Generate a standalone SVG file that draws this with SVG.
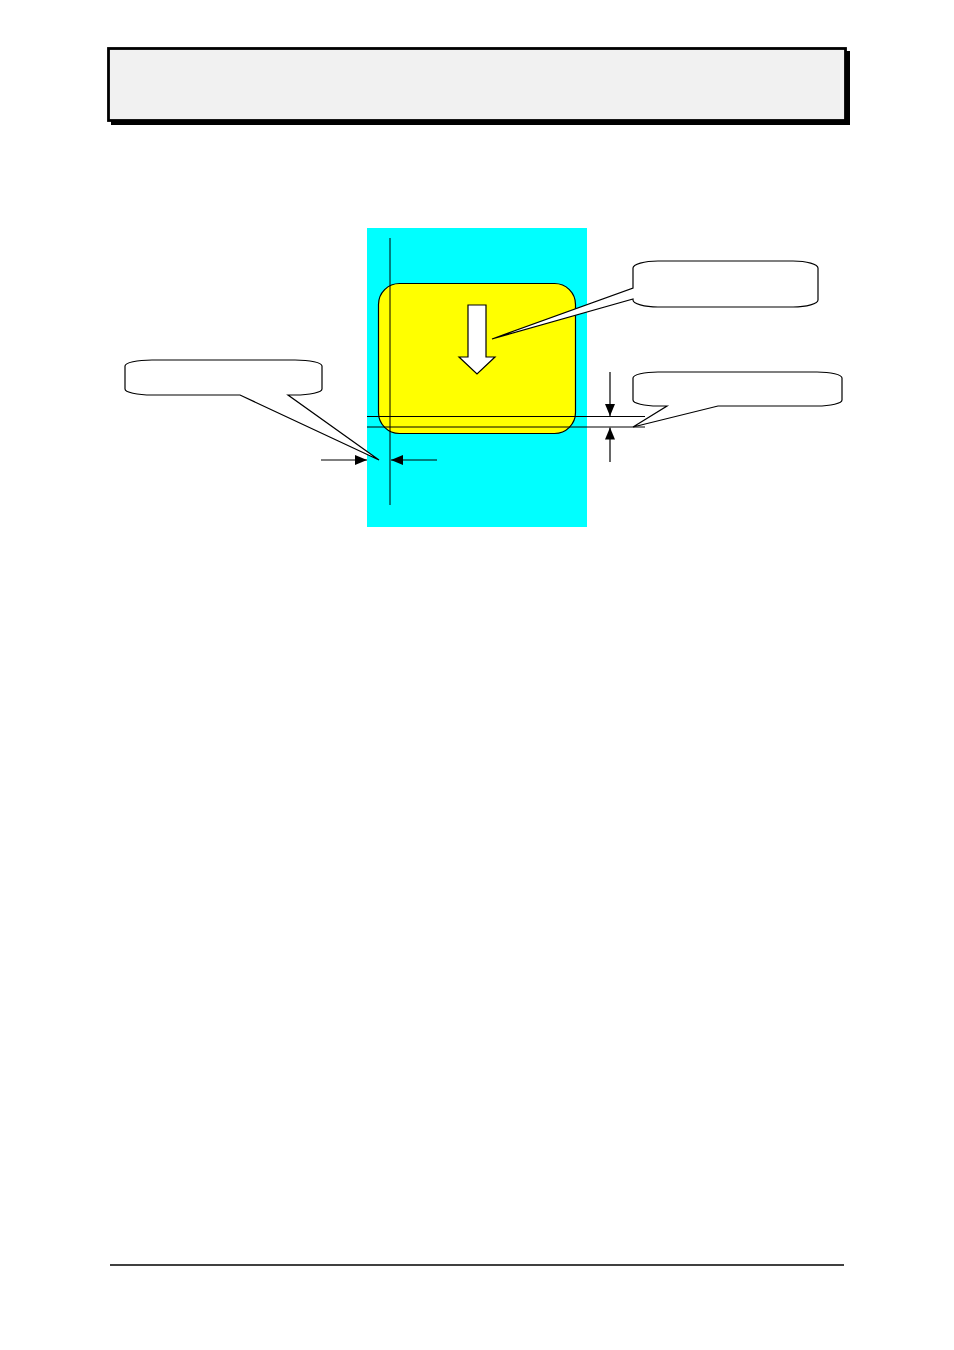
<svg xmlns="http://www.w3.org/2000/svg" width="954" height="1350" viewBox="0 0 954 1350">
  <style>
    .ln { stroke: #000; stroke-width: 1; fill: none; }
    .callout { fill: #fff; stroke: #000; stroke-width: 1.2; }
    .dim { stroke: #000; stroke-width: 1.2; fill: none; marker-end: url(#ah); }
  </style>
  <defs>
    <marker id="ah" markerUnits="userSpaceOnUse" markerWidth="12" markerHeight="10" viewBox="0 0 12 10" refX="12" refY="5" orient="auto">
      <path d="M0,0 L12,5 L0,10 Z" fill="#000"/>
    </marker>
  </defs>
  <rect width="954" height="1350" fill="#fff"/>

  <g id="header">
    <rect x="111" y="51" width="739" height="74" fill="#000"/>
    <rect x="108.5" y="48.5" width="737" height="72" fill="#f1f1f1" stroke="#000" stroke-width="2.8"/>
  </g>

  <g id="background-panel">
    <rect x="367" y="228" width="220" height="299" fill="#00ffff"/>
  </g>

  <g id="key">
    <rect x="378.5" y="283.5" width="197" height="150" rx="21" ry="21" fill="#ffff00" stroke="#000" stroke-width="1.2"/>
    <polygon points="468,305 486,305 486,357 495,357 477,374 459,357 468,357" fill="#fff" stroke="#000" stroke-width="1.2"/>
  </g>

  <g id="connectors">
    <line class="ln" x1="390" y1="238" x2="390" y2="505"/>
    <line class="ln" x1="367" y1="416.5" x2="645" y2="416.5"/>
    <line class="ln" x1="367" y1="427" x2="645" y2="427"/>
    <line class="dim" x1="610" y1="372" x2="610" y2="416"/>
    <line class="dim" x1="610" y1="462" x2="610" y2="427.5"/>
    <line class="dim" x1="321" y1="460" x2="367" y2="460"/>
    <line class="dim" x1="437" y1="460" x2="391" y2="460"/>
  </g>

  <g id="callout-left">
    <path class="callout" d="M152,360 H295 A27,6 0 0 1 322,366 V389 A27,6 0 0 1 295,395 H288 L379,460 L240,395 H152 A27,6 0 0 1 125,389 V366 A27,6 0 0 1 152,360 Z"/>
  </g>

  <g id="callout-top-right">
    <path class="callout" d="M658,261 H793 A25,7 0 0 1 818,268 V300 A25,7 0 0 1 793,307 H658 A25,7 0 0 1 633,300 V299 L492,339 L633,288 V268 A25,7 0 0 1 658,261 Z"/>
  </g>

  <g id="callout-bottom-right">
    <path class="callout" d="M658,372 H817 A25,6 0 0 1 842,378 V400 A25,6 0 0 1 817,406 H718 L633,427 L667,406 H658 A25,6 0 0 1 633,400 V378 A25,6 0 0 1 658,372 Z"/>
  </g>

  <g id="footer">
    <line x1="110" y1="1265" x2="844" y2="1265" stroke="#000" stroke-width="1.4"/>
  </g>
</svg>
